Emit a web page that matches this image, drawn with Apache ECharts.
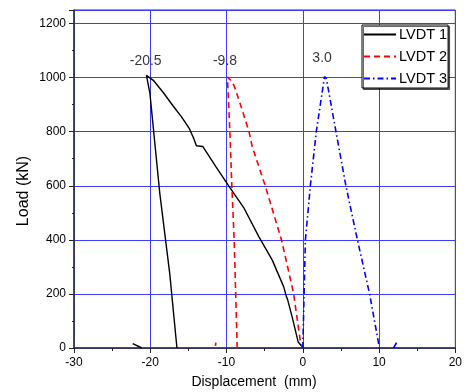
<!DOCTYPE html>
<html>
<head>
<meta charset="utf-8">
<script src="https://cdn.jsdelivr.net/npm/echarts@6/dist/echarts.min.js"></script>
<style>
html,body{margin:0;padding:0;background:#fff;}
#chart{width:465px;height:392px;}
</style>
</head>
<body>
<div id="chart"></div>
<script>
// ---- data (displacement mm, load kN) ----
var seriesNames = ['LVDT 1', 'LVDT 2', 'LVDT 3'];
var lvdt1Main = [[-16.5,0],[-17.45,276],[-18.75,572],[-20.05,943],[-20.5,1008],[-20.1,1000],[-19.6,990],[-18.3,945],[-17.0,895],[-15.9,855],[-14.85,810],[-14.3,775],[-13.95,748],[-13.1,745],[-11.4,671],[-9.65,597],[-7.7,517],[-5.75,411],[-4.0,325],[-2.5,226],[-2.15,190],[-2.0,180],[-1.4,115],[-0.6,22],[-0.1,5],[0,0]];
var lvdt1Tail = [[-22.3,16],[-21.1,0]];
var lvdt2Main = [[-8.6,0],[-8.8,200],[-9.0,400],[-9.3,597],[-9.55,790],[-9.88,1002],[-9.45,990],[-9.0,970],[-8.0,885],[-7.06,801],[-6.63,745],[-4.89,597],[-2.73,393],[-1.21,202],[-0.34,29],[0,0]];
var lvdt2Tail = [[-11.45,8],[-11.4,20]];
var lvdt3Main = [[0,0],[0.17,200],[0.34,400],[0.75,525],[0.99,600],[1.77,800],[2.85,1004],[3.1,995],[4.35,800],[5.65,600],[7.16,400],[8.76,200],[10.05,0]];
var lvdt3Tail = [[11.9,0],[12.3,20]];
var peakLabels = ['-20.5', '-9.8', '3.0'];
var peakLabelX = [-20.6, -10.2, 2.53];
var peakLabelY = [1061, 1061, 1071];
var xTitle = 'Displacement  (mm)';
var yTitle = 'Load (kN)';

var FONT = '"Liberation Sans", Arial, sans-serif';
var chart = echarts.init(document.getElementById('chart'), null, {renderer: 'canvas'});

function lineSeries(name, data, color, type, width) {
  return {
    name: name, type: 'line', data: data, symbol: 'none', showSymbol: false,
    animation: false, z: 3,
    lineStyle: {color: color, width: width, type: type, cap: 'butt'},
    itemStyle: {color: color}
  };
}

var labelData = peakLabels.map(function (t, i) {
  return {name: t, value: [peakLabelX[i], peakLabelY[i]]};
});

var option = {
  backgroundColor: '#fff',
  animation: false,
  grid: {left: 74, right: 7, top: 10, bottom: 44, show: true, borderColor: '#333', borderWidth: 1, backgroundColor: 'transparent'},
  xAxis: {
    type: 'value', min: -30, max: 20, interval: 10,
    axisLine: {show: true, onZero: false, lineStyle: {color: '#333', width: 1.5}},
    axisTick: {show: true, inside: false, length: 5, lineStyle: {color: '#222', width: 1}},
    minorTick: {show: true, splitNumber: 2, length: 3, lineStyle: {color: '#222', width: 1}},
    axisLabel: {color: '#000', fontSize: 12, fontFamily: FONT, margin: 9, formatter: function (v) { return String(v); }},
    splitLine: {show: true, lineStyle: {color: '#3c3cff', width: 1}}
  },
  yAxis: {
    type: 'value', min: 0, max: 1250, interval: 200,
    axisLine: {show: true, onZero: false, lineStyle: {color: '#333', width: 1.5}},
    axisTick: {show: true, inside: false, length: 5, lineStyle: {color: '#222', width: 1}},
    minorTick: {show: true, splitNumber: 2, length: 2, lineStyle: {color: '#222', width: 1}},
    axisLabel: {color: '#000', fontSize: 12, fontFamily: FONT, margin: 8, showMaxLabel: false, formatter: function (v) { return String(v); }},
    splitLine: {show: true, lineStyle: {color: '#3c3cff', width: 1}}
  },
  legend: {
    data: seriesNames,
    orient: 'vertical', left: 362, top: 25,
    itemWidth: 32, itemHeight: 14, itemGap: 7,
    padding: [2, 1, 2, 1],
    backgroundColor: '#fff', borderColor: '#000', borderWidth: 1,
    shadowColor: 'rgba(0,0,0,0.6)', shadowOffsetX: 1.5, shadowOffsetY: 1.5, shadowBlur: 0.1,
    itemStyle: {color: 'rgba(0,0,0,0)', borderWidth: 0, opacity: 0},
    textStyle: {color: '#000', fontSize: 14.5, fontFamily: FONT, padding: [0, 0, 0, -2]},
    selectedMode: false
  },
  graphic: [
    {type: 'text', x: 254, y: 382, style: {text: xTitle, fontSize: 14, fontFamily: FONT, fill: '#000', align: 'center', verticalAlign: 'middle'}},
    {type: 'text', rotation: Math.PI / 2, x: 24, y: 191, style: {text: yTitle, fontSize: 16, fontFamily: FONT, fill: '#000', align: 'center', verticalAlign: 'middle'}}
  ],
  series: [
    lineSeries(seriesNames[0], lvdt1Main, '#000', 'solid', 1.4),
    lineSeries(seriesNames[1], lvdt2Main, '#ff0000', [6, 4], 1.6),
    lineSeries(seriesNames[2], lvdt3Main, '#0000ff', [6, 3, 1.5, 3], 1.6),
    lineSeries(seriesNames[0], lvdt1Tail, '#000', 'solid', 1.4),
    lineSeries(seriesNames[1], lvdt2Tail, '#ff0000', 'solid', 1.6),
    lineSeries(seriesNames[2], lvdt3Tail, '#0000ff', 'solid', 1.6),
    {
      name: 'peaks', type: 'scatter', data: labelData, symbolSize: 1,
      itemStyle: {color: 'rgba(0,0,0,0)'}, z: 5, silent: true,
      label: {show: true, position: 'inside', formatter: '{b}', color: '#000', fontSize: 14, fontFamily: FONT}
    }
  ]
};
chart.setOption(option);
</script>
</body>
</html>
